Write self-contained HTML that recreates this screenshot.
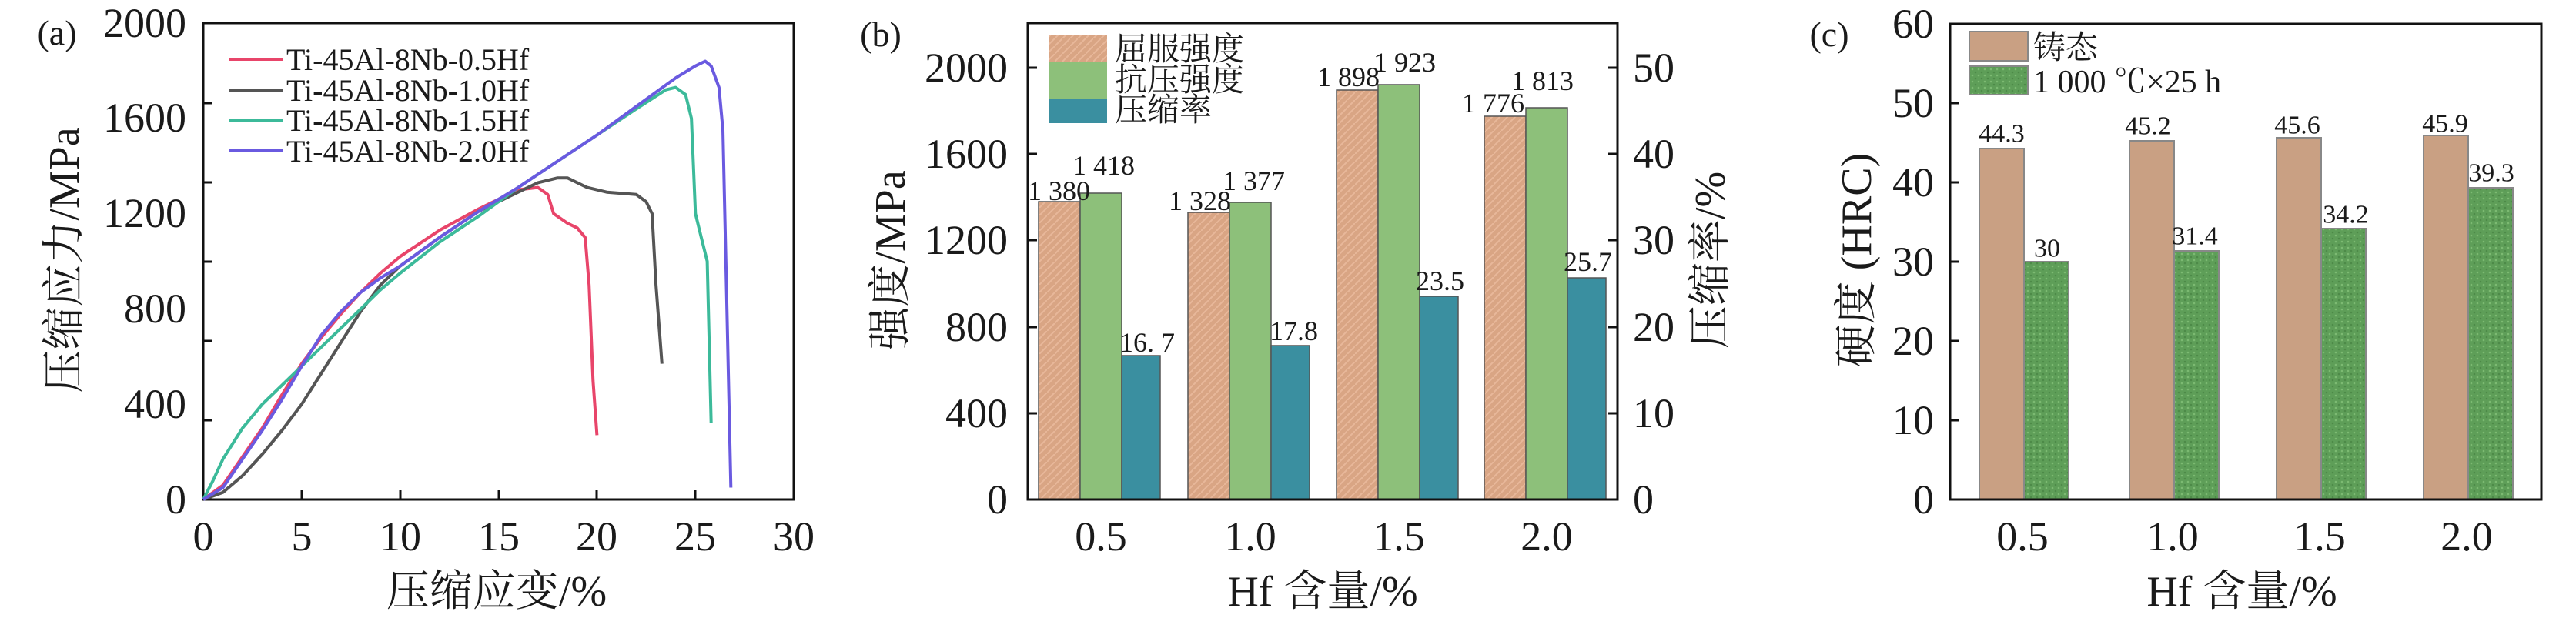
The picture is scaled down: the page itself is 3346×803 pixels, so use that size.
<!DOCTYPE html>
<html><head><meta charset="utf-8"><style>
html,body{margin:0;padding:0;background:#fff;}
svg{display:block;}
text{font-family:"Liberation Serif","Noto Serif CJK SC","Noto Sans CJK SC",serif;fill:#1a1a1a;}
</style></head><body>
<svg width="3346" height="803" viewBox="0 0 3346 803" xmlns="http://www.w3.org/2000/svg">
<defs>
<pattern id="hy" width="10" height="10" patternUnits="userSpaceOnUse"><rect width="10" height="10" fill="#d9a584"/><path d="M0 10L10 0" stroke="#e8b89a" stroke-width="2"/></pattern>
<pattern id="hg" width="8" height="8" patternUnits="userSpaceOnUse"><rect width="8" height="8" fill="#5e9e58"/><circle cx="2" cy="2" r="1.3" fill="#7cba72"/><circle cx="6" cy="6" r="1.3" fill="#4d8a48"/></pattern>
</defs>
<rect width="3346" height="803" fill="#fff"/>

<!-- Panel a -->
<text x="74" y="58" font-size="46" text-anchor="middle">(a)</text>
<rect x="264" y="30" width="767" height="619" fill="none" stroke="#111" stroke-width="3"/>
<g stroke="#111" stroke-width="3">
<line x1="264" y1="134" x2="276" y2="134"/><line x1="264" y1="237" x2="276" y2="237"/><line x1="264" y1="340" x2="276" y2="340"/><line x1="264" y1="443" x2="276" y2="443"/><line x1="264" y1="546" x2="276" y2="546"/>
<line x1="392" y1="649" x2="392" y2="637"/><line x1="520" y1="649" x2="520" y2="637"/><line x1="648" y1="649" x2="648" y2="637"/><line x1="775" y1="649" x2="775" y2="637"/><line x1="903" y1="649" x2="903" y2="637"/>
</g>
<g font-size="54" text-anchor="end">
<text x="242" y="48">2000</text><text x="242" y="171">1600</text><text x="242" y="295">1200</text><text x="242" y="419">800</text><text x="242" y="543">400</text><text x="242" y="667">0</text>
</g>
<g font-size="54" text-anchor="middle">
<text x="264" y="715">0</text><text x="392" y="715">5</text><text x="520" y="715">10</text><text x="648" y="715">15</text><text x="775" y="715">20</text><text x="903" y="715">25</text><text x="1031" y="715">30</text>
</g>
<text x="645" y="787" font-size="56" text-anchor="middle">压缩应变/%</text>
<text transform="translate(102,338) rotate(-90)" font-size="56" text-anchor="middle">压缩应力/MPa</text>
<g id="curves" fill="none" stroke-width="4" stroke-linejoin="round"></g>
<g stroke-width="4">
<line x1="298" y1="77" x2="368" y2="77" stroke="#e8456a"/>
<line x1="298" y1="117" x2="368" y2="117" stroke="#555"/>
<line x1="298" y1="156" x2="368" y2="156" stroke="#3cba9a"/>
<line x1="298" y1="196" x2="368" y2="196" stroke="#6a5ae0"/>
</g>
<g font-size="40">
<text x="372" y="91">Ti-45Al-8Nb-0.5Hf</text><text x="372" y="131">Ti-45Al-8Nb-1.0Hf</text><text x="372" y="170">Ti-45Al-8Nb-1.5Hf</text><text x="372" y="210">Ti-45Al-8Nb-2.0Hf</text>
</g>

<!-- Panel b -->
<text x="1144" y="60" font-size="46" text-anchor="middle">(b)</text>
<g stroke="#555" stroke-width="1.5">
<rect x="1349" y="262" width="54" height="387" fill="url(#hy)"/><rect x="1403" y="251" width="54" height="398" fill="#8dc07a"/><rect x="1457" y="462" width="50" height="187" fill="#3a8fa0"/>
<rect x="1543" y="276" width="54" height="373" fill="url(#hy)"/><rect x="1597" y="263" width="54" height="386" fill="#8dc07a"/><rect x="1651" y="449" width="50" height="200" fill="#3a8fa0"/>
<rect x="1736" y="117" width="54" height="532" fill="url(#hy)"/><rect x="1790" y="110" width="54" height="539" fill="#8dc07a"/><rect x="1844" y="385" width="50" height="264" fill="#3a8fa0"/>
<rect x="1928" y="151" width="54" height="498" fill="url(#hy)"/><rect x="1982" y="140" width="54" height="509" fill="#8dc07a"/><rect x="2036" y="361" width="50" height="288" fill="#3a8fa0"/>
</g>
<rect x="1335" y="30" width="766" height="619" fill="none" stroke="#111" stroke-width="3"/>
<g stroke="#111" stroke-width="3">
<line x1="1335" y1="88" x2="1347" y2="88"/><line x1="1335" y1="200" x2="1347" y2="200"/><line x1="1335" y1="312" x2="1347" y2="312"/><line x1="1335" y1="425" x2="1347" y2="425"/><line x1="1335" y1="537" x2="1347" y2="537"/>
<line x1="2101" y1="88" x2="2089" y2="88"/><line x1="2101" y1="200" x2="2089" y2="200"/><line x1="2101" y1="312" x2="2089" y2="312"/><line x1="2101" y1="425" x2="2089" y2="425"/><line x1="2101" y1="537" x2="2089" y2="537"/>
</g>
<g font-size="54" text-anchor="end">
<text x="1309" y="106">2000</text><text x="1309" y="218">1600</text><text x="1309" y="330">1200</text><text x="1309" y="443">800</text><text x="1309" y="555">400</text><text x="1309" y="667">0</text>
</g>
<g font-size="54" text-anchor="start">
<text x="2121" y="106">50</text><text x="2121" y="218">40</text><text x="2121" y="330">30</text><text x="2121" y="443">20</text><text x="2121" y="555">10</text><text x="2121" y="667">0</text>
</g>
<g font-size="54" text-anchor="middle">
<text x="1430" y="715">0.5</text><text x="1624" y="715">1.0</text><text x="1817" y="715">1.5</text><text x="2009" y="715">2.0</text>
</g>
<text x="1718" y="787" font-size="56" text-anchor="middle">Hf 含量/%</text>
<text transform="translate(1175,338) rotate(-90)" font-size="56" text-anchor="middle">强度/MPa</text>
<text transform="translate(2240,338) rotate(-90)" font-size="56" text-anchor="middle">压缩率/%</text>
<rect x="1363" y="45" width="75" height="35" fill="url(#hy)"/><rect x="1363" y="80" width="75" height="48" fill="#8dc07a"/><rect x="1363" y="128" width="75" height="32" fill="#3a8fa0"/>
<g font-size="42">
<text x="1448" y="78">屈服强度</text><text x="1448" y="118">抗压强度</text><text x="1448" y="157">压缩率</text>
</g>
<g font-size="36" dominant-baseline="central">
<text x="1335" y="248">1 380</text><text x="1393" y="215">1 418</text><text x="1454" y="445">16. 7</text>
<text x="1518" y="261">1 328</text><text x="1588" y="235">1 377</text><text x="1649" y="430">17.8</text>
<text x="1711" y="100">1 898</text><text x="1784" y="81">1 923</text><text x="1839" y="365">23.5</text>
<text x="1899" y="134">1 776</text><text x="1963" y="105">1 813</text><text x="2031" y="340">25.7</text>
</g>

<!-- Panel c -->
<text x="2376" y="60" font-size="46" text-anchor="middle">(c)</text>
<g stroke="#888" stroke-width="2">
<rect x="2571" y="193" width="58" height="456" fill="#c9a083"/><rect x="2629" y="340" width="58" height="309" fill="url(#hg)"/>
<rect x="2766" y="183" width="58" height="466" fill="#c9a083"/><rect x="2824" y="326" width="58" height="323" fill="url(#hg)"/>
<rect x="2957" y="179" width="58" height="470" fill="#c9a083"/><rect x="3015" y="297" width="58" height="352" fill="url(#hg)"/>
<rect x="3148" y="176" width="58" height="473" fill="#c9a083"/><rect x="3206" y="244" width="58" height="405" fill="url(#hg)"/>
</g>
<rect x="2533" y="31" width="768" height="618" fill="none" stroke="#111" stroke-width="3"/>
<g stroke="#111" stroke-width="3">
<line x1="2533" y1="134" x2="2545" y2="134"/><line x1="2533" y1="237" x2="2545" y2="237"/><line x1="2533" y1="340" x2="2545" y2="340"/><line x1="2533" y1="443" x2="2545" y2="443"/><line x1="2533" y1="546" x2="2545" y2="546"/>
</g>
<g font-size="54" text-anchor="end">
<text x="2512" y="49">60</text><text x="2512" y="152">50</text><text x="2512" y="255">40</text><text x="2512" y="358">30</text><text x="2512" y="461">20</text><text x="2512" y="564">10</text><text x="2512" y="667">0</text>
</g>
<g font-size="54" text-anchor="middle">
<text x="2627" y="715">0.5</text><text x="2822" y="715">1.0</text><text x="3013" y="715">1.5</text><text x="3204" y="715">2.0</text>
</g>
<text x="2912" y="787" font-size="56" text-anchor="middle">Hf 含量/%</text>
<text transform="translate(2430,338) rotate(-90)" font-size="56" text-anchor="middle">硬度 (HRC)</text>
<rect x="2558" y="41" width="76" height="38" fill="#c9a083" stroke="#888" stroke-width="2"/>
<rect x="2558" y="86" width="76" height="37" fill="url(#hg)" stroke="#888" stroke-width="2"/>
<g font-size="42">
<text x="2641" y="76">铸态</text><text x="2641" y="120">1 000 ℃×25 h</text>
</g>
<g font-size="34" dominant-baseline="central" text-anchor="middle">
<text x="2600" y="174">44.3</text><text x="2659" y="323">30</text>
<text x="2790" y="164">45.2</text><text x="2851" y="307">31.4</text>
<text x="2984" y="163">45.6</text><text x="3047" y="279">34.2</text>
<text x="3176" y="161">45.9</text><text x="3236" y="225">39.3</text>
</g>
</svg>
<script>
(function(){
var d={"#e8456a":[[0,0],[1,60],[2,180],[3,300],[4,440],[5,570],[6,680],[7,780],[8,870],[9,950],[10,1020],[12,1130],[14,1220],[15,1260],[16,1300],[17,1310],[17.5,1280],[17.8,1200],[18.5,1160],[19,1140],[19.4,1100],[19.6,900],[19.8,500],[20,270]],
"#555555":[[0,0],[1,30],[2,100],[3,190],[4,290],[5,400],[6,530],[7,660],[8,790],[9,900],[10,980],[12,1100],[14,1210],[16,1290],[17,1330],[18,1350],[18.5,1350],[19.5,1310],[20.5,1290],[22,1280],[22.5,1250],[22.8,1200],[23,900],[23.3,570]],
"#3cba9a":[[0,0],[0.5,80],[1,170],[2,300],[3,400],[4,480],[5,560],[6,640],[7,720],[8,800],[9,880],[10,950],[12,1080],[14,1190],[16,1310],[18,1420],[20,1530],[22,1640],[23.5,1720],[24,1730],[24.5,1700],[24.8,1600],[25,1200],[25.3,1100],[25.6,1000],[25.8,320]],
"#6a5ae0":[[0,0],[1,50],[2,170],[3,290],[4,420],[5,560],[6,690],[7,790],[8,870],[9,930],[10,980],[12,1100],[14,1210],[16,1310],[18,1420],[20,1530],[22,1650],[24,1770],[25,1820],[25.5,1840],[25.8,1820],[26.2,1730],[26.4,1550],[26.6,800],[26.8,50]]};
var g=document.getElementById("curves");
for(var c in d){var p=d[c].map(function(q){return (264+q[0]*25.57).toFixed(1)+","+(649-q[1]*0.3095).toFixed(1);}).join(" ");
var e=document.createElementNS("http://www.w3.org/2000/svg","polyline");e.setAttribute("points",p);e.setAttribute("stroke",c);g.appendChild(e);}
})();
</script>
</body></html>
